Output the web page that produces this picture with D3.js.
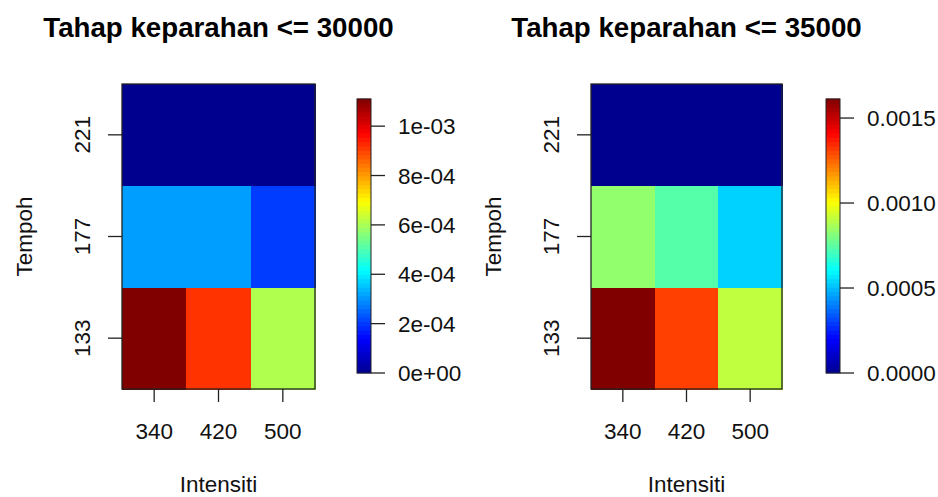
<!DOCTYPE html>
<html>
<head>
<meta charset="utf-8">
<script src="https://cdn.jsdelivr.net/npm/d3@7"></script>
<style>
  body { margin: 0; background: #fff; }
  text { font-family: "Liberation Sans", Arial, sans-serif; fill: #111; }
</style>
</head>
<body>
<svg id="chart" width="938" height="497"></svg>
<script>
// data
var intensiti = [340, 420, 500];
var tempoh = [133, 177, 221];
var titles = ["Tahap keparahan <= 30000", "Tahap keparahan <= 35000"];
// rows follow tempoh order, columns follow intensiti order
var sev30000 = [
  [1.11e-3, 9.16e-4, 6.08e-4],
  [3.12e-4, 3.12e-4, 2.04e-4],
  [0, 0, 0]
];
var sev35000 = [
  [1.612e-3, 1.31e-3, 9.07e-4],
  [8.36e-4, 7.39e-4, 5.33e-4],
  [0, 0, 0]
];
var legendTicks30000 = [0, 2e-4, 4e-4, 6e-4, 8e-4, 1e-3];
var legendTicks35000 = [0, 5e-4, 1e-3, 1.5e-3];

// tim.colors style palette
var jetStops = [0, 0.125, 0.375, 0.625, 0.875, 1];
var jetColors = ["#00008F", "#0000FF", "#00FFFF", "#FFFF00", "#FF0000", "#800000"];

var svg = d3.select("#chart");

function fmtSci(v) {
  if (v === 0) return "0e+00";
  var s = v.toExponential(0); // e.g. 2e-4
  var m = s.split("e");
  var ex = parseInt(m[1], 10);
  var sign = ex < 0 ? "-" : "+";
  var a = Math.abs(ex);
  return m[0] + "e" + sign + (a < 10 ? "0" + a : a);
}

function drawPanel(opts) {
  var g = svg.append("g");
  var cells = [];
  opts.values.forEach(function (row, i) {
    row.forEach(function (v, j) {
      cells.push({ t: tempoh[i], x: intensiti[j], v: v });
    });
  });
  var zmax = d3.max(cells, function (d) { return d.v; });
  var color = d3.scaleLinear()
    .domain(jetStops.map(function (s) { return s * zmax; }))
    .range(jetColors)
    .clamp(true);

  var x = d3.scaleBand().domain(intensiti).range([opts.left, opts.right]);
  var y = d3.scaleBand().domain(tempoh).range([opts.bottom, opts.top]);

  g.selectAll("rect.cell").data(cells).enter().append("rect")
    .attr("class", "cell")
    .attr("x", function (d) { return x(d.x); })
    .attr("y", function (d) { return y(d.t); })
    .attr("width", x.bandwidth() + 0.5)
    .attr("height", y.bandwidth() + 0.5)
    .attr("shape-rendering", "crispEdges")
    .attr("fill", function (d) { return color(d.v); });

  g.append("rect")
    .attr("x", opts.left).attr("y", opts.top)
    .attr("width", opts.right - opts.left).attr("height", opts.bottom - opts.top)
    .attr("fill", "none").attr("stroke", "#222").attr("stroke-width", 1.3);

  // x axis
  var xa = g.append("g").attr("transform", "translate(0," + opts.bottom + ")");
  xa.selectAll("line").data(intensiti).enter().append("line")
    .attr("x1", function (d) { return x(d) + x.bandwidth() / 2; })
    .attr("x2", function (d) { return x(d) + x.bandwidth() / 2; })
    .attr("y1", 0).attr("y2", 13)
    .attr("stroke", "#222").attr("stroke-width", 1.3);
  xa.selectAll("text").data(intensiti).enter().append("text")
    .attr("x", function (d) { return x(d) + x.bandwidth() / 2; })
    .attr("y", 50)
    .attr("text-anchor", "middle")
    .style("font-size", "22.5px")
    .text(function (d) { return d; });

  // y axis
  var ya = g.append("g").attr("transform", "translate(" + opts.left + ",0)");
  ya.selectAll("line").data(tempoh).enter().append("line")
    .attr("y1", function (d) { return y(d) + y.bandwidth() / 2; })
    .attr("y2", function (d) { return y(d) + y.bandwidth() / 2; })
    .attr("x1", 0).attr("x2", -14)
    .attr("stroke", "#222").attr("stroke-width", 1.3);
  ya.selectAll("text").data(tempoh).enter().append("text")
    .attr("transform", function (d) {
      return "translate(-32," + (y(d) + y.bandwidth() / 2) + ") rotate(-90)";
    })
    .attr("text-anchor", "middle")
    .style("font-size", "22.5px")
    .text(function (d) { return d; });

  var cx = (opts.left + opts.right) / 2;
  var cy = (opts.top + opts.bottom) / 2;
  g.append("text")
    .attr("x", cx).attr("y", 37)
    .attr("text-anchor", "middle")
    .style("font-size", "27.7px").style("font-weight", "bold")
    .style("fill", "#000")
    .text(opts.title);
  g.append("text")
    .attr("x", cx).attr("y", 492)
    .attr("text-anchor", "middle")
    .style("font-size", "22.5px")
    .text("Intensiti");
  g.append("text")
    .attr("transform", "translate(" + (opts.left - 90) + "," + cy + ") rotate(-90)")
    .attr("text-anchor", "middle")
    .style("font-size", "22.5px")
    .text("Tempoh");

  // colour legend
  var lz = d3.scaleLinear().domain([0, zmax]).range([373, 99]);
  var steps = d3.range(0, 64).map(function (k) { return k / 64 * zmax; });
  var stepH = (373 - 99) / 64;
  var lg = g.append("g");
  lg.selectAll("rect").data(steps).enter().append("rect")
    .attr("x", opts.legX).attr("width", 14)
    .attr("y", function (d) { return lz(d) - stepH - 0.4; })
    .attr("height", stepH + 0.8)
    .attr("fill", function (d) { return color(d + zmax / 128); });
  lg.append("rect")
    .attr("x", opts.legX).attr("y", 99).attr("width", 14).attr("height", 274)
    .attr("fill", "none").attr("stroke", "#222").attr("stroke-width", 1);
  lg.selectAll("line.tk").data(opts.legTicks).enter().append("line")
    .attr("class", "tk")
    .attr("x1", opts.legX + 14).attr("x2", opts.legX + 28)
    .attr("y1", function (d) { return lz(d); })
    .attr("y2", function (d) { return lz(d); })
    .attr("stroke", "#222").attr("stroke-width", 1.3);
  lg.selectAll("text").data(opts.legTicks).enter().append("text")
    .attr("x", opts.legX + 41)
    .attr("y", function (d) { return lz(d); })
    .attr("dy", "0.36em")
    .style("font-size", "22.5px")
    .text(opts.legFormat);
}

drawPanel({
  title: titles[0], values: sev30000,
  left: 122, right: 315, top: 84, bottom: 389,
  legX: 357, legTicks: legendTicks30000, legFormat: fmtSci
});
drawPanel({
  title: titles[1], values: sev35000,
  left: 591, right: 782, top: 84, bottom: 389,
  legX: 826, legTicks: legendTicks35000,
  legFormat: function (d) { return d.toFixed(4); }
});
</script>
</body>
</html>
